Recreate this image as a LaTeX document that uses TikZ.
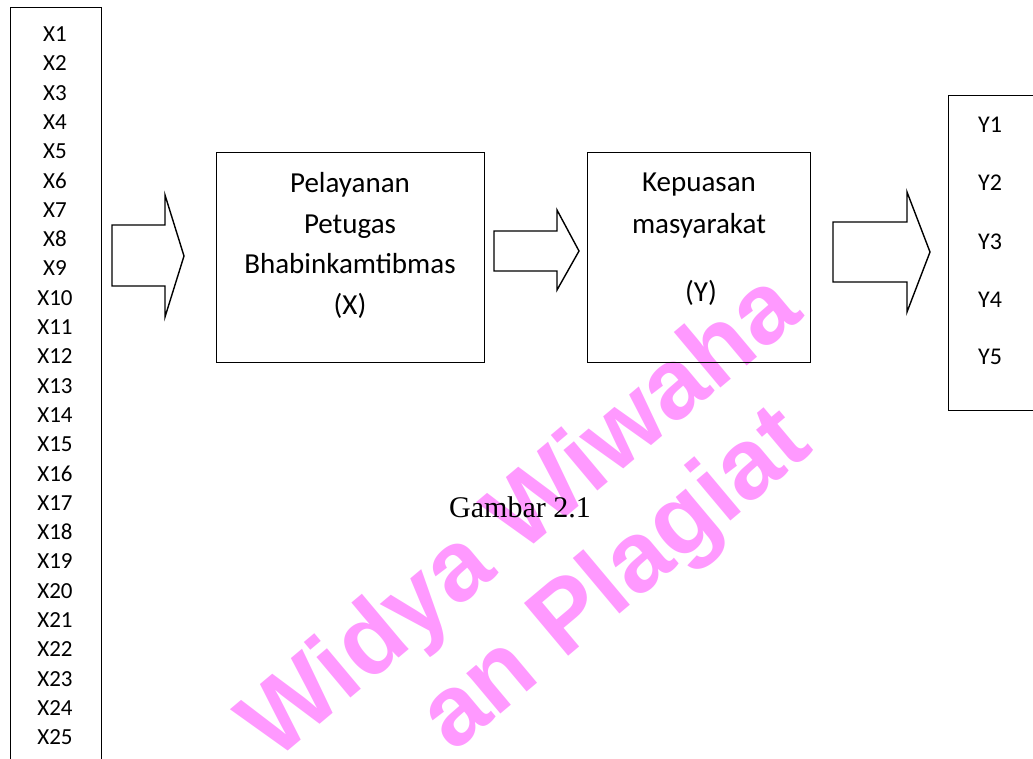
\documentclass[tikz,border=0pt]{standalone}
\usepackage{fontspec}
\setmainfont{Carlito}
\newfontfamily\capfont{Liberation Serif}
\newfontfamily\wmfont{Liberation Sans}
\definecolor{wmpink}{RGB}{255,153,255}

\begin{document}
\begin{tikzpicture}[x=1pt,y=-1pt,
  frame/.style={draw=black, line width=1.4pt, inner sep=0pt, anchor=north west},
  xlbl/.style={font=\fontsize{23}{28}\selectfont, inner sep=0pt, anchor=base},
  ylbl/.style={font=\fontsize{24}{29}\selectfont, inner sep=0pt, anchor=base},
  boxtxt/.style={font=\fontsize{29}{34}\selectfont, inner sep=0pt, anchor=base},
  blockarrow/.style={draw=black, line width=1.4pt, line join=miter},
  wmark/.style={font=\wmfont\bfseries\fontsize{100}{110}\selectfont, text=wmpink,
    inner sep=0pt, rotate=40, anchor=base east}]
\useasboundingbox (0,0) rectangle (1033,758);
\clip (0,0) rectangle (1033,758);

% watermark behind the diagram
\node[wmark] (wm1) at (805,317) {Widya Wiwaha};
\node[wmark] (wm2) at (815,450) {an Plagiat};

% indicator column for X
\node[frame, minimum width=91pt, minimum height=820pt] (xcol) at (10,7) {};
\foreach \i in {1,...,25}{
  \node[xlbl] (x\i) at (55,{34+29.3*(\i-1)+7.5}) {X\i};
}

% arrow: indicators -> X
\coordinate (a1) at (112,225);
\draw[blockarrow] (a1) -- (165,225) -- (165,195) -- (184,256) -- (165,317)
  -- (165,286) -- (112,286) -- cycle;

% variable X
\node[frame, minimum width=268pt, minimum height=210pt] (bx) at (216,152) {};
\node[boxtxt] (bx1) at (350,192) {Pelayanan};
\node[boxtxt] (bx2) at (350,233) {Petugas};
\node[boxtxt] (bx3) at (350,273) {Bhabinkamtibmas};
\node[boxtxt] (bx4) at (350,314) {(X)};

% arrow: X -> Y
\coordinate (a2) at (494,231);
\draw[blockarrow] (a2) -- (557,231) -- (557,210) -- (579,251) -- (557,290)
  -- (557,271) -- (494,271) -- cycle;

% variable Y
\node[frame, minimum width=223pt, minimum height=210pt] (by) at (587,152) {};
\node[boxtxt] (by1) at (699,191) {Kepuasan};
\node[boxtxt] (by2) at (699,233) {masyarakat};
\node[boxtxt] (by3) at (701,301) {(Y)};

% arrow: Y -> indicators
\coordinate (a3) at (833,222);
\draw[blockarrow] (a3) -- (907,222) -- (907,192) -- (930,252) -- (907,312)
  -- (907,282) -- (833,282) -- cycle;

% indicator column for Y
\node[frame, minimum width=150pt, minimum height=315pt] (ycol) at (948,95) {};
\foreach \i/\yy in {1/125,2/183,3/242,4/300,5/357}{
  \node[ylbl] (y\i) at (990,{\yy+7.7}) {Y\i};
}

% caption
\node[font=\capfont\fontsize{30}{34}\selectfont, inner sep=0pt, anchor=base]
  (cap) at (520,517) {Gambar 2.1};
\end{tikzpicture}
\end{document}
